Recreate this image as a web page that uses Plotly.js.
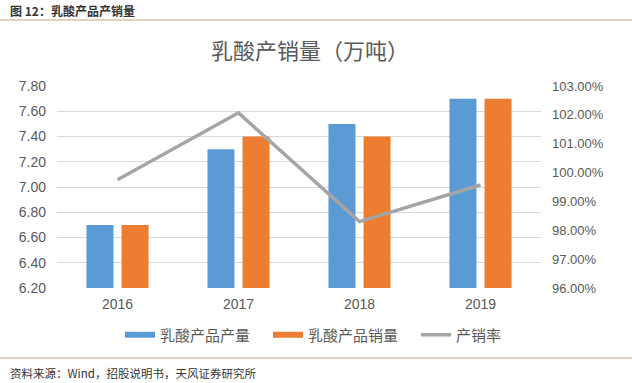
<!DOCTYPE html>
<html>
<head>
<meta charset="utf-8">
<script src="https://cdn.plot.ly/plotly-3.0.1.min.js"></script>
<style>html,body{margin:0;padding:0;background:#fff;}#chart{width:632px;height:383px;}</style>
</head>
<body>
<div id="chart"></div>
<script>
var years = ['2016', '2017', '2018', '2019'];
var production = [6.7, 7.3, 7.5, 7.7];
var sales = [6.7, 7.4, 7.4, 7.7];
var ratio = [99.75, 102.07, 98.3, 99.57];
var leftTicks = [6.2, 6.4, 6.6, 6.8, 7.0, 7.2, 7.4, 7.6, 7.8];
var rightTicks = [96, 97, 98, 99, 100, 101, 102, 103];
var seriesNames = ['乳酸产品产量', '乳酸产品销量', '产销率'];
var colors = ['#5b9bd5', '#ed7d31', '#a5a5a5'];

var cjk = '"Noto Sans CJK SC", sans-serif';
var num = '"Liberation Sans", Arial, sans-serif';

var traces = [
  {type: 'bar', name: seriesNames[0], x: years, y: production, marker: {color: colors[0]}, showlegend: false},
  {type: 'bar', name: seriesNames[1], x: years, y: sales, marker: {color: colors[1]}, showlegend: false},
  {type: 'scatter', mode: 'lines', name: seriesNames[2], x: years, y: ratio, yaxis: 'y2',
   line: {color: colors[2], width: 3.5}, showlegend: false},
  // legend-only entries mimicking the reference swatches
  {type: 'scatter', mode: 'lines', name: seriesNames[0], x: [null], y: [null], line: {color: colors[0], width: 6}, hoverinfo: 'skip'},
  {type: 'scatter', mode: 'lines', name: seriesNames[1], x: [null], y: [null], line: {color: colors[1], width: 6}, hoverinfo: 'skip'},
  {type: 'scatter', mode: 'lines', name: seriesNames[2], x: [null], y: [null], line: {color: colors[2], width: 3.5}, hoverinfo: 'skip'}
];

var layout = {
  width: 632, height: 383,
  margin: {l: 57, r: 91, t: 86, b: 95},
  paper_bgcolor: '#fff', plot_bgcolor: '#fff',
  barmode: 'group', bargap: 0.42, bargroupgap: 0.23,
  showlegend: true,
  title: {text: '乳酸产销量（万吨）', font: {family: cjk, size: 22, color: '#595959'},
          x: 310 / 632, xanchor: 'center', xref: 'container', y: 1 - 51 / 383, yanchor: 'middle'},
  xaxis: {type: 'category', showgrid: false, zeroline: false, showline: false,
          ticks: '', ticklabelstandoff: 6, tickfont: {family: num, size: 14, color: '#595959'}},
  yaxis: {range: [6.2, 7.8], tickvals: leftTicks, ticktext: leftTicks.map(function(v){return v.toFixed(2);}),
          showgrid: true, gridcolor: '#d9d9d9', gridwidth: 1, zeroline: false, showline: false,
          ticks: '', ticklabelstandoff: 10, tickfont: {family: num, size: 14, color: '#595959'}},
  yaxis2: {range: [96, 103], overlaying: 'y', side: 'right', tickvals: rightTicks,
           ticktext: rightTicks.map(function(v){return v.toFixed(2) + '%';}),
           showgrid: false, zeroline: false, showline: false, ticks: '', ticklabelstandoff: 10,
           tickfont: {family: num, size: 13, color: '#595959'}},
  legend: {orientation: 'h', xref: 'container', x: 120 / 632, xanchor: 'left',
           yref: 'container', y: 1 - 335 / 383, yanchor: 'middle',
           font: {family: cjk, size: 15, color: '#595959'}, entrywidth: 103, entrywidthmode: 'pixels',
           tracegroupgap: 0, bgcolor: 'rgba(0,0,0,0)'},
  shapes: [
    {type: 'line', xref: 'paper', yref: 'paper', x0: -57/484, x1: (632-57)/484,
     y0: (288-20)/202, y1: (288-20)/202, line: {color: '#c4a47c', width: 1.2}},
    {type: 'line', xref: 'paper', yref: 'paper', x0: -57/484, x1: (632-57)/484,
     y0: (288-358)/202, y1: (288-358)/202, line: {color: '#c4a47c', width: 1.2}}
  ],
  annotations: [
    {text: '<b>图 12：乳酸产品产销量</b>', xref: 'paper', yref: 'paper', x: (8-57)/484, y: (288-10)/202,
     xanchor: 'left', yanchor: 'middle', showarrow: false, font: {family: cjk, size: 12, color: '#333333'}},
    {text: '资料来源：Wind，招股说明书，天风证券研究所', xref: 'paper', yref: 'paper', x: (8-57)/484, y: (288-373)/202,
     xanchor: 'left', yanchor: 'middle', showarrow: false, font: {family: cjk, size: 11.5, color: '#333333'}}
  ]
};

Plotly.newPlot('chart', traces, layout, {displayModeBar: false, responsive: false});
</script>
</body>
</html>
